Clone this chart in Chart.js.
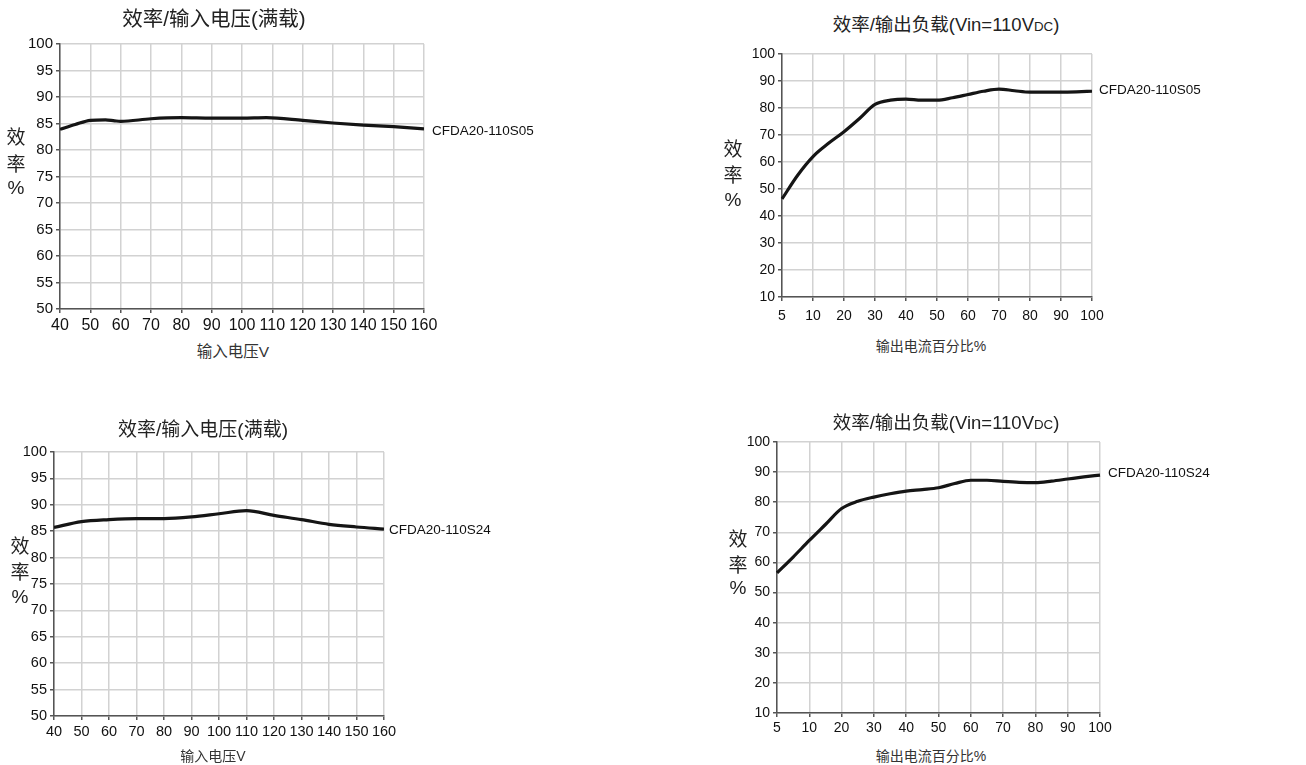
<!DOCTYPE html>
<html>
<head>
<meta charset="utf-8">
<script src="https://cdn.jsdelivr.net/npm/chart.js@4/dist/chart.umd.min.js"></script>
<style>
  html, body { margin:0; padding:0; background:#fff; }
  #root { position:relative; width:1306px; height:765px; overflow:hidden; background:#fff; }
  canvas { position:absolute; }
  .t { position:absolute; transform:translate(-50%,-50%); white-space:nowrap; color:#222;
       font-family:"Liberation Sans","Noto Sans CJK SC",Arial,sans-serif; }
  .xt { color:#333; }
  .yl { font-size:19px; }
  .sm { font-size:0.72em; }
</style>
</head>
<body>
<div id="root">
  <canvas id="c1"></canvas><canvas id="c2"></canvas><canvas id="c3"></canvas><canvas id="c4"></canvas>

  <div class="t" style="left:214px;top:17px;font-size:20.5px">效率/输入电压(满载)</div>
  <div class="t yl" style="left:16px;top:135px">效</div>
  <div class="t yl" style="left:16px;top:162px">率</div>
  <div class="t yl" style="left:16px;top:188px">%</div>
  <div class="t xt" style="left:233px;top:350px;font-size:15.5px">输入电压V</div>

  <div class="t" style="left:946px;top:23px;font-size:18.5px">效率/输出负载(Vin=110V<span class="sm">DC</span>)</div>
  <div class="t yl" style="left:733px;top:147px">效</div>
  <div class="t yl" style="left:733px;top:173px">率</div>
  <div class="t yl" style="left:733px;top:200px">%</div>
  <div class="t xt" style="left:931px;top:345px;font-size:14px">输出电流百分比%</div>

  <div class="t" style="left:203px;top:427px;font-size:19px">效率/输入电压(满载)</div>
  <div class="t yl" style="left:20px;top:544px">效</div>
  <div class="t yl" style="left:20px;top:570px">率</div>
  <div class="t yl" style="left:20px;top:597px">%</div>
  <div class="t xt" style="left:213px;top:755px;font-size:14px">输入电压V</div>

  <div class="t" style="left:946px;top:421px;font-size:18.5px">效率/输出负载(Vin=110V<span class="sm">DC</span>)</div>
  <div class="t yl" style="left:738px;top:537px">效</div>
  <div class="t yl" style="left:738px;top:563px">率</div>
  <div class="t yl" style="left:738px;top:588px">%</div>
  <div class="t xt" style="left:931px;top:755px;font-size:14px">输出电流百分比%</div>
</div>
<script>
// ---- Data ----
const c1Volt = [40,45,50,55,58,60,70,80,90,100,108,120,130,140,150,160];
const c1Eff  = [83.9,84.8,85.6,85.7,85.5,85.4,85.9,86.1,86.0,86.0,86.1,85.6,85.1,84.7,84.4,84.0];
const c1Name = 'CFDA20-110S05';

const loadLabels = ['5','7.5','10','15','20','25','30','35','40','45','50','55','60','65','70','75','80','85','90','95','100'];
const c2Eff = [46.3,55.0,62.0,66.9,71.2,76.1,81.3,82.9,83.3,82.9,82.9,83.8,85.0,86.2,87.0,86.4,85.9,85.9,85.9,86.0,86.2];
const c2Name = 'CFDA20-110S05';

const c3Volt = [40,50,60,70,80,90,100,110,120,130,140,150,160];
const c3Eff  = [85.7,86.8,87.2,87.4,87.4,87.7,88.3,88.9,88.0,87.2,86.3,85.8,85.4];
const c3Name = 'CFDA20-110S24';

const c4Eff = [56.5,61.8,67.3,72.6,77.9,80.3,81.7,82.8,83.7,84.2,84.8,86.2,87.3,87.3,86.9,86.6,86.5,87.0,87.7,88.4,89.0];
const c4Name = 'CFDA20-110S24';

// ---- Helpers ----
const LEFTPAD = 50, TOPPAD = 15, BOTPAD = 30, RIGHTPAD = 160;
const FONT = '"Liberation Sans", Arial, sans-serif';

const endLabel = {
  id: 'endLabel',
  afterDatasetsDraw(chart, args, opts) {
    const meta = chart.getDatasetMeta(0);
    const pt = meta.data[meta.data.length - 1];
    const c = chart.ctx;
    c.save();
    c.font = '13.5px ' + FONT;
    c.fillStyle = '#111';
    c.textBaseline = 'middle';
    c.textAlign = 'left';
    c.fillText(opts.text, chart.chartArea.right + opts.dx, pt.y + opts.dy);
    c.restore();
  }
};

function setupCanvas(id, L, T, W, H) {
  const cv = document.getElementById(id);
  const w = W + LEFTPAD + RIGHTPAD, h = H + TOPPAD + BOTPAD;
  cv.width = w; cv.height = h;
  cv.style.left = (L - LEFTPAD) + 'px';
  cv.style.top = (T - TOPPAD) + 'px';
  cv.style.width = w + 'px'; cv.style.height = h + 'px';
  return cv;
}

function gridCfg(skipOdd) {
  return {
    color: skipOdd ? (c) => (c.index % 2 ? 'rgba(0,0,0,0)' : '#d2d2d2') : '#d2d2d2',
    lineWidth: 1.5,
    tickColor: skipOdd ? (c) => (c.index % 2 ? 'rgba(0,0,0,0)' : '#555') : '#555',
    tickLength: 4,
    drawTicks: true
  };
}

function makeChart(id, rect, xScale, yMin, yMax, yStep, data, name, dx, dy, tickSize) {
  const cv = setupCanvas(id, rect[0], rect[1], rect[2], rect[3]);
  return new Chart(cv, {
    type: 'line',
    data: data,
    plugins: [endLabel],
    options: {
      responsive: false,
      animation: false,
      devicePixelRatio: 1,
      layout: { padding: { left: 0, top: TOPPAD, right: RIGHTPAD, bottom: 0 } },
      plugins: {
        legend: { display: false },
        tooltip: { enabled: false },
        title: { display: false },
        endLabel: { text: name, dx: dx, dy: dy }
      },
      elements: { point: { radius: 0 } },
      scales: {
        x: Object.assign(xScale, {
          afterFit(s) { s.height = BOTPAD; }
        }),
        y: {
          type: 'linear', min: yMin, max: yMax,
          border: { color: '#555', width: 1.5 },
          grid: gridCfg(false),
          ticks: { stepSize: yStep, color: '#111', padding: 3, font: { size: tickSize, family: FONT } },
          afterFit(s) { s.width = LEFTPAD; }
        }
      }
    }
  });
}

const lineDs = (pts) => ({
  data: pts, borderColor: '#151515', borderWidth: 3.2,
  cubicInterpolationMode: 'monotone', fill: false, pointRadius: 0
});

// Chart 1
makeChart('c1', [60, 44, 364, 265], {
    type: 'linear', min: 40, max: 160,
    border: { color: '#555', width: 1.5 },
    grid: gridCfg(false),
    ticks: { stepSize: 10, autoSkip: false, maxRotation: 0, color: '#111', padding: 3, font: { size: 16, family: FONT } }
  }, 50, 100, 5,
  { datasets: [lineDs(c1Volt.map((v, i) => ({ x: v, y: c1Eff[i] })))] },
  c1Name, 8, 2, 15);

// Chart 2
makeChart('c2', [782, 54, 310, 243], {
    type: 'category', offset: false,
    border: { color: '#555', width: 1.5 },
    grid: gridCfg(true),
    ticks: { autoSkip: false, maxRotation: 0, color: '#111', padding: 7, font: { size: 14, family: FONT },
      callback(v, i) { return i % 2 ? '' : this.getLabelForValue(v); } }
  }, 10, 100, 10,
  { labels: loadLabels, datasets: [lineDs(c2Eff)] },
  c2Name, 7, -1, 14);

// Chart 3
makeChart('c3', [54, 452, 330, 264], {
    type: 'linear', min: 40, max: 160,
    border: { color: '#555', width: 1.5 },
    grid: gridCfg(false),
    ticks: { stepSize: 10, autoSkip: false, maxRotation: 0, color: '#111', padding: 3, font: { size: 14.5, family: FONT } }
  }, 50, 100, 5,
  { datasets: [lineDs(c3Volt.map((v, i) => ({ x: v, y: c3Eff[i] })))] },
  c3Name, 5, 1, 14.5);

// Chart 4
makeChart('c4', [777, 442, 323, 271], {
    type: 'category', offset: false,
    border: { color: '#555', width: 1.5 },
    grid: gridCfg(true),
    ticks: { autoSkip: false, maxRotation: 0, color: '#111', padding: 3, font: { size: 14, family: FONT },
      callback(v, i) { return i % 2 ? '' : this.getLabelForValue(v); } }
  }, 10, 100, 10,
  { labels: loadLabels, datasets: [lineDs(c4Eff)] },
  c4Name, 8, -2, 14);
</script>
</body>
</html>
